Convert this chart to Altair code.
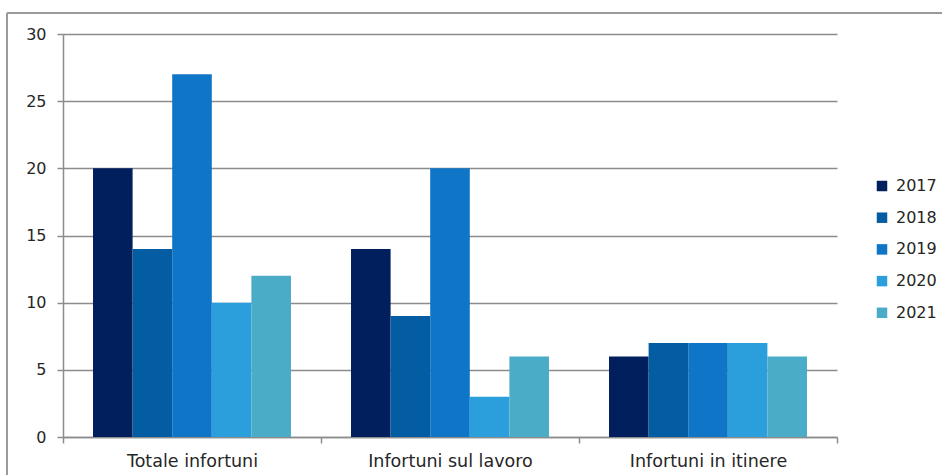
import altair as alt
import pandas as pd

categories = ["Totale infortuni", "Infortuni sul lavoro", "Infortuni in itinere"]
years = ["2017", "2018", "2019", "2020", "2021"]
values = {
    "Totale infortuni": [20, 14, 27, 10, 12],
    "Infortuni sul lavoro": [14, 9, 20, 3, 6],
    "Infortuni in itinere": [6, 7, 7, 7, 6],
}
colors = ["#001F5C", "#045DA2", "#0F75C7", "#2A9FDC", "#4AACC6"]
y_ticks = [0, 5, 10, 15, 20, 25, 30]

rows = []
for c in categories:
    for y, v in zip(years, values[c]):
        rows.append({"categoria": c, "anno": y, "valore": v})
df = pd.DataFrame(rows)

FONT = "DejaVu Sans"
GRAY = "#8c8c8c"
FS = 16

bars = alt.Chart(df).mark_bar().encode(
    x=alt.X("categoria:N", sort=categories, title=None,
            scale=alt.Scale(paddingInner=0, paddingOuter=0),
            axis=alt.Axis(labelAngle=0, tickBand="extent", tickSize=6,
                          tickColor=GRAY, domainColor=GRAY, domainWidth=1.5,
                          tickWidth=1.5, labelFontSize=17.5, labelFont=FONT,
                          labelColor="#262626", labelPadding=9, grid=False)),
    xOffset=alt.XOffset("anno:N", sort=years,
                        scale=alt.Scale(paddingInner=0, paddingOuter=0.758)),
    y=alt.Y("valore:Q", title=None,
            scale=alt.Scale(domain=[0, 30], nice=False),
            axis=alt.Axis(values=y_ticks, tickSize=6, tickColor=GRAY,
                          domainColor=GRAY, domainWidth=1.5, tickWidth=1.5,
                          gridColor=GRAY, gridWidth=1.5, labelFontSize=FS,
                          labelFont=FONT, labelColor="#262626", labelPadding=11)),
    color=alt.Color("anno:N", sort=years, title=None,
                    scale=alt.Scale(domain=years, range=colors),
                    legend=alt.Legend(orient="none", legendX=811, legendY=144,
                                      symbolType="square", symbolSize=110,
                                      symbolStrokeWidth=0, rowPadding=15.7,
                                      labelFontSize=FS, labelFont=FONT,
                                      labelColor="#262626", labelOffset=6)),
)

border = alt.Chart(pd.DataFrame({"k": [0]})).mark_rule(color="#9a9a9a", strokeWidth=2).encode(
    x=alt.value(-56), x2=alt.value(900), y=alt.value(-21), y2=alt.value(-21)
)
border_left = alt.Chart(pd.DataFrame({"k": [0]})).mark_rule(color="#9a9a9a", strokeWidth=2).encode(
    x=alt.value(-56), x2=alt.value(-56), y=alt.value(-21), y2=alt.value(460)
)

chart = alt.layer(bars, border, border_left).properties(
    width=774, height=403,
    autosize=alt.AutoSizeParams(type="none"),
    padding={"left": 63, "top": 34, "right": 105, "bottom": 38},
    background="white",
).configure_view(stroke=None)

chart.save("out.html", embed_options={"renderer": "svg", "actions": False})
